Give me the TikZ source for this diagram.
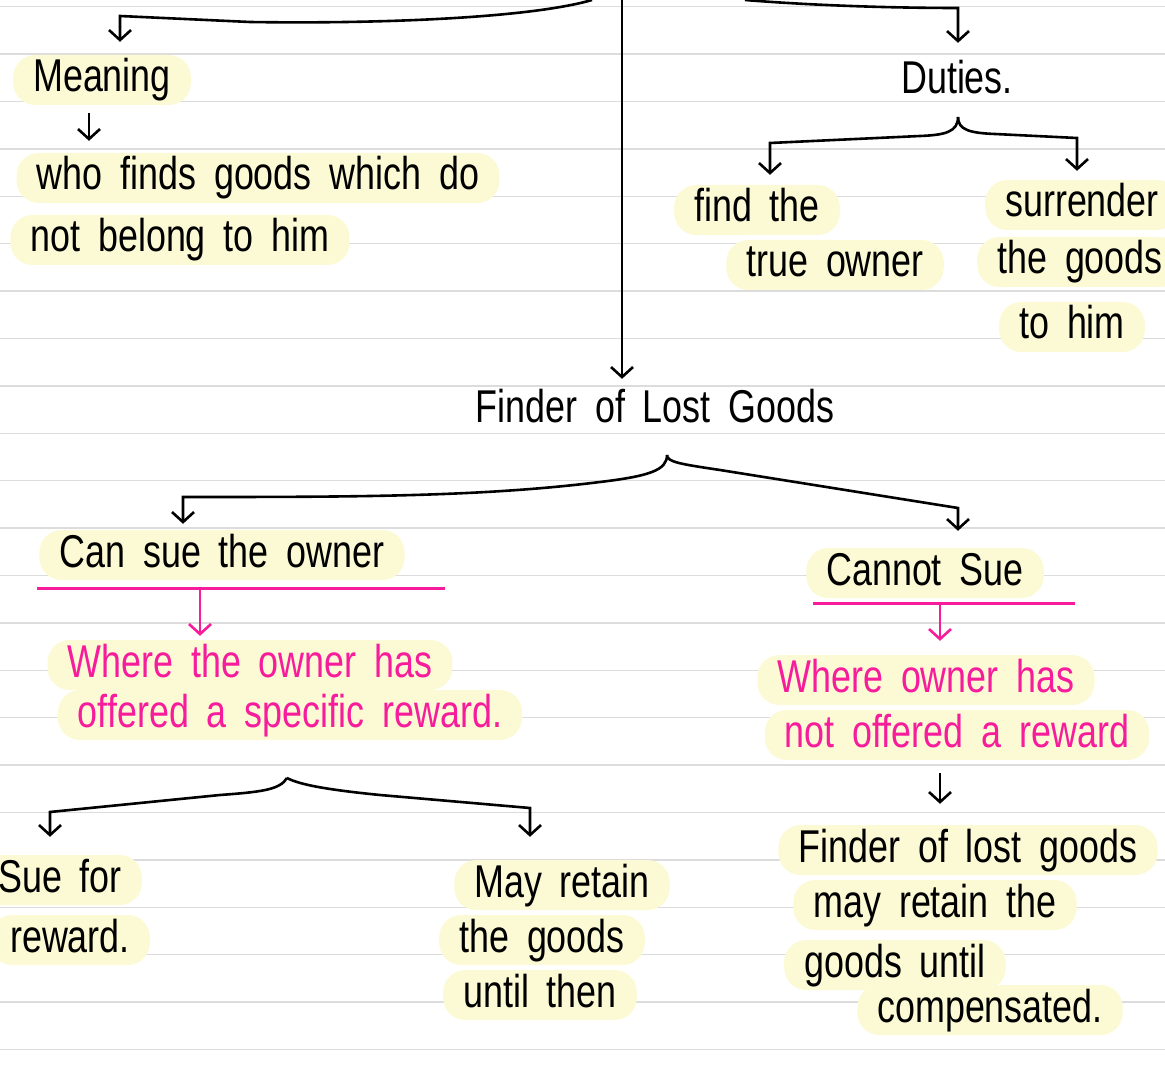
\documentclass[tikz,border=0pt]{standalone}
\usepackage{fontspec}
\setmainfont{Liberation Sans}[FakeStretch=0.78, WordSpace=1.8]
\usetikzlibrary{arrows.meta}
\definecolor{hilite}{HTML}{FCFAD4}
\definecolor{inkpink}{HTML}{F71C9C}
\definecolor{ruling}{HTML}{DCDCDC}

\begin{document}
\begin{tikzpicture}[x=1pt, y=-1pt,
	every node/.style={font=\fontsize{46}{52}\selectfont, inner sep=0pt},
	note/.style={fill=hilite, rounded corners=22pt, inner xsep=20pt, inner ysep=3pt, text height=34pt, text depth=10pt},
	plain/.style={inner ysep=3pt, text height=34pt, text depth=10pt},
	pinknote/.style={note, text=inkpink},
	arr/.style={-{Straight Barb[length=10pt, width=22pt]}, line width=2.6pt},
	parr/.style={arr, draw=inkpink},
	pinkline/.style={draw=inkpink, line width=3pt},
	ruleline/.style={draw=ruling, line width=1.4pt}]
	\useasboundingbox (0,0) rectangle (1165,1067);
	% ruled paper
	\foreach \k in {0,...,22}
		\draw[ruleline] (0,{6.7+47.4*\k}) -- (1165,{6.7+47.4*\k});
	% top row
	\node[note] (mean) at (102,80) {Meaning};
	\node[note] (def1) at (258,178) {who finds goods which do};
	\node[note] (def2) at (180,240) {not belong to him};
	\node[plain] (duties) at (957,82) {Duties.};
	\node[note] (find1) at (757,210) {find the};
	\node[note] (find2) at (835,265) {true owner};
	\node[note] (surr1) at (1082,205) {surrender};
	\node[note] (surr2) at (1080,262) {the goods};
	\node[note] (surr3) at (1072,327) {to him};
	% centre
	\node[plain] (finder) at (655,410) {Finder of Lost Goods};
	% left branch
	\node[note] (cansue) at (222,555) {Can sue the owner};
	\node[pinknote] (where1) at (250,665) {Where the owner has};
	\node[pinknote] (where2) at (290,715) {offered a specific reward.};
	\node[note] (suefor1) at (60,880) {Sue for};
	\node[note] (suefor2) at (70,940) {reward.};
	\node[note] (may1) at (562,885) {May retain};
	\node[note] (may2) at (542,940) {the goods};
	\node[note] (may3) at (540,995) {until then};
	% right branch
	\node[note] (cannot) at (925,573) {Cannot Sue};
	\node[pinknote] (nowhere1) at (926,680) {Where owner has};
	\node[pinknote] (nowhere2) at (957,735) {not offered a reward};
	\node[note] (lost1) at (968,850) {Finder of lost goods};
	\node[note] (lost2) at (935,905) {may retain the};
	\node[note] (lost3) at (895,965) {goods until};
	\node[note] (lost4) at (990,1010) {compensated.};
	% corners
	\coordinate (topL) at (592,0);
	\coordinate (topM) at (622,0);
	\coordinate (topR) at (745,0);
	\coordinate (cornL) at (120,16);
	\coordinate (cornR) at (958,8);
	\coordinate (mTip) at (89,0);
	\coordinate (dCusp) at (958,117);
	\coordinate (dL) at (770,143);
	\coordinate (dR) at (1077,138);
	\coordinate (fCusp) at (667,455);
	\coordinate (fL) at (183,497);
	\coordinate (fR) at (958,508);
	\coordinate (uL) at (200,589);
	\coordinate (uR) at (940,604);
	\coordinate (wCusp) at (287,778);
	\coordinate (wL) at (50,812);
	\coordinate (wR) at (530,808);
	\coordinate (nTip) at (940,0);
	% connectors
	\draw[arr, shorten >=13pt] (topL) .. controls (530,18) and (380,24) .. (250,22) -- (cornL) -- (cornL |- mean.north);
	\draw[arr, shorten >=6pt] (topM) -- (topM |- finder.north);
	\draw[arr, shorten >=14pt] (topR) .. controls (820,6) and (900,8) .. (cornR) -- (cornR |- duties.north);
	\draw[arr, shorten <=8pt, shorten >=12pt] (mean.south -| mTip) -- (def1.north -| mTip);
	\draw[arr, shorten >=10pt] (dCusp) .. controls (958,132) and (945,135) .. (920,136) -- (dL) -- (dL |- find1.north);
	\draw[arr, shorten >=9pt] (dCusp) .. controls (958,130) and (970,133) .. (995,134) -- (dR) -- (dR |- surr1.north);
	\draw[arr, shorten >=6pt] (fCusp) .. controls (667,470) and (650,476) .. (600,482) .. controls (480,497) and (350,497) .. (fL) -- (fL |- cansue.north);
	\draw[arr, shorten >=17pt] (fCusp) .. controls (667,462) and (680,464) .. (720,470) -- (fR) -- (fR |- cannot.north);
	\draw[pinkline] (37,588) -- (445,588);
	\draw[pinkline] (813,603) -- (1075,603);
	\draw[parr, shorten >=4pt] (uL) -- (uL |- where1.north);
	\draw[parr, shorten >=14pt] (uR) -- (uR |- nowhere1.north);
	\draw[arr, shorten >=18pt] (wCusp) .. controls (280,790) and (260,792) .. (220,795) -- (wL) -- (wL |- suefor1.north);
	\draw[arr, shorten >=23pt] (wCusp) .. controls (300,785) and (330,790) .. (380,795) -- (wR) -- (wR |- may1.north);
	\draw[arr, shorten <=13pt, shorten >=21pt] (nowhere2.south -| nTip) -- (lost1.north -| nTip);
\end{tikzpicture}
\end{document}
